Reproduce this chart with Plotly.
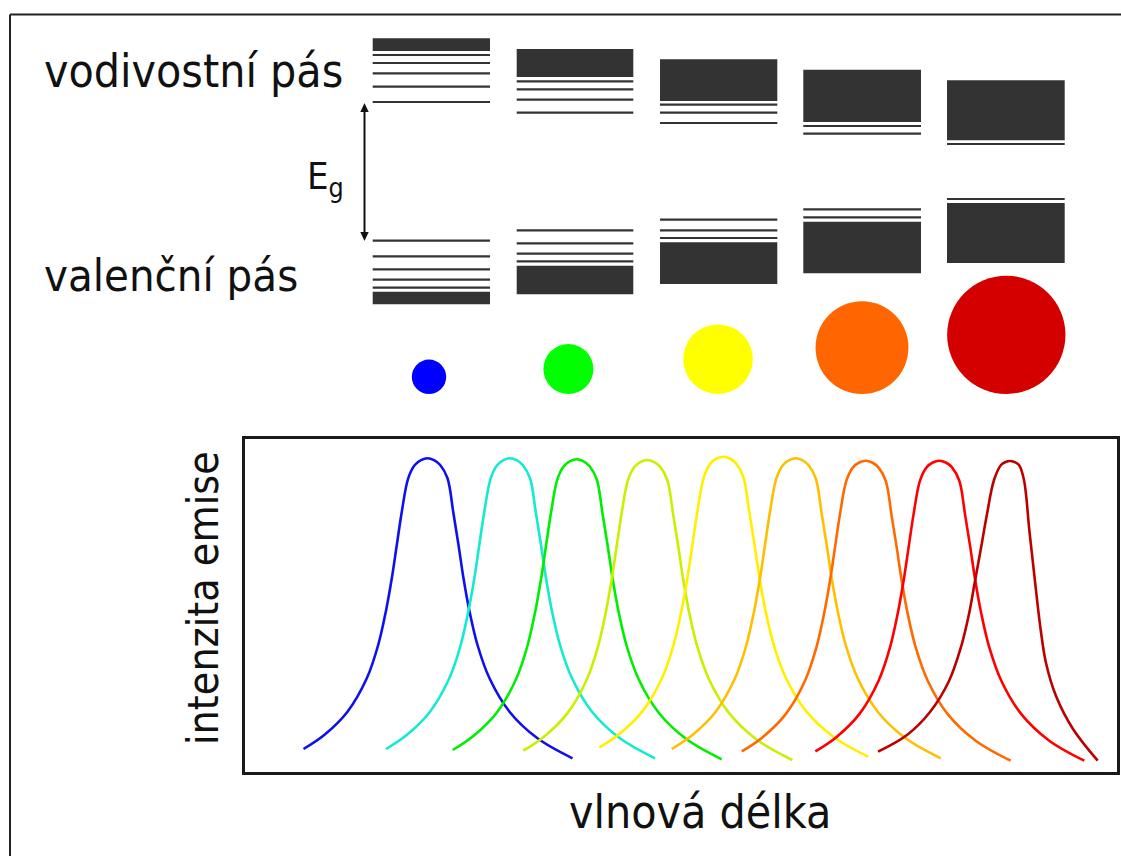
import plotly.graph_objects as go

W, H = 1121, 856
FONT = "DejaVu Sans Condensed, DejaVu Sans, Verdana, sans-serif"
INK = "#111111"
BAND = "#333333"

# ---- band diagram (pixel-unit energy levels) ----
COL_X0 = [372.7, 516.7, 660.0, 803.3, 947.0]
COL_X1 = [490.0, 633.3, 777.3, 921.0, 1064.7]
CB_BLOCK_TOP = [38.3, 49.0, 59.3, 69.7, 80.3]
CB_BLOCK_BOTTOM = [51.0, 77.0, 101.0, 122.0, 140.3]
CB_LINES = [[55.0, 63.0, 73.3, 86.7, 102.0],
            [81.3, 89.3, 99.7, 112.7],
            [104.7, 112.7, 123.0],
            [126.0, 133.7],
            [144.0]]
VB_LINES = [[240.7, 256.3, 269.3, 279.7, 287.7],
            [230.3, 243.3, 253.7, 261.3],
            [219.7, 230.3, 238.0],
            [209.3, 217.3],
            [199.0]]
VB_BLOCK_TOP = [291.7, 265.7, 242.3, 221.7, 203.0]
VB_BLOCK_BOTTOM = [304.3, 294.3, 284.0, 273.3, 263.0]

# band-gap arrow
GAP_X = 364.5
GAP_TOP, GAP_BOTTOM = 103.0, 241.0
HEAD_LEN, HEAD_HALF = 9.0, 4.2

# ---- emitted-colour dots ----
DOT_X = [429.0, 568.4, 718.0, 862.0, 1006.3]
DOT_Y = [376.8, 369.0, 359.2, 347.6, 334.8]
DOT_D = [34.4, 50.0, 69.6, 92.9, 118.3]
DOT_COLORS = ["#0000ff", "#00ff00", "#ffff00", "#ff6600", "#d40000"]

# ---- emission spectra ----
PEAK_X = [427.5, 510.0, 576.7, 647.3, 723.3, 795.7, 865.7, 939.3, 1010.0]
PEAK_I = [313.7, 313.7, 312.7, 312.0, 315.3, 313.7, 311.3, 311.3, 311.0]
CURVE_COLORS = ["#1010ee", "#14ead0", "#00ee00", "#c8f000", "#fff000",
                "#ffbf00", "#ff6a00", "#ff0000", "#bb0000"]
SHAPE_DX = [-124, -103.3, -80, -60.7, -49.3, -41.7, -35.7, -30.7, -25.7, -19.3, -12.7, -6.5,
            0, 6.5, 12.7, 20, 25.7, 31, 36, 42, 50, 62, 82, 110, 145]
SHAPE_DROP = [290.7, 276.7, 253.4, 220, 186.7, 153.4, 120, 86.7, 53.4, 20, 6.7, 1.8,
              0, 1.8, 6.7, 20, 53.4, 86.7, 120, 153, 186.7, 220, 253.4, 280, 300]
LAST_DX = [-132, -103, -80, -61, -49, -41, -35, -29, -23, -16, -9, -4.5,
           0, 4.5, 9, 14, 19.3, 23, 26.7, 30.7, 36, 46, 63, 87.7]
LAST_DROP = [290.7, 274, 251, 220, 186, 153, 120, 87, 53, 19, 4, 1,
             0, 1, 4, 19, 69, 102.3, 135.7, 169, 202, 235, 268, 299.7]

fig = go.Figure()

# dots
fig.add_trace(go.Scatter(x=DOT_X, y=DOT_Y, mode="markers", xaxis="x", yaxis="y",
                         marker=dict(size=DOT_D, color=DOT_COLORS, opacity=1,
                                     line=dict(width=0)),
                         hoverinfo="skip", showlegend=False))

# spectra
for i, (px, pi, col) in enumerate(zip(PEAK_X, PEAK_I, CURVE_COLORS)):
    dxs, drops = (LAST_DX, LAST_DROP) if i == len(PEAK_X) - 1 else (SHAPE_DX, SHAPE_DROP)
    fig.add_trace(go.Scatter(x=[px + d for d in dxs], y=[pi - d for d in drops],
                             mode="lines", xaxis="x2", yaxis="y2",
                             line=dict(color=col, width=2.6, shape="spline", smoothing=1.0),
                             hoverinfo="skip", showlegend=False))

shapes = []
for k in range(5):
    x0, x1 = COL_X0[k], COL_X1[k]
    for top, bot in ((CB_BLOCK_TOP[k], CB_BLOCK_BOTTOM[k]), (VB_BLOCK_TOP[k], VB_BLOCK_BOTTOM[k])):
        shapes.append(dict(type="rect", xref="x", yref="y", x0=x0, x1=x1, y0=top, y1=bot,
                           fillcolor=BAND, line=dict(width=0), layer="above"))
    for yy in CB_LINES[k] + VB_LINES[k]:
        shapes.append(dict(type="line", xref="x", yref="y", x0=x0, x1=x1, y0=yy, y1=yy,
                           line=dict(color=BAND, width=2.2), layer="above"))

# band-gap double arrow
shapes.append(dict(type="line", xref="x", yref="y", x0=GAP_X, x1=GAP_X,
                   y0=GAP_TOP + HEAD_LEN - 1, y1=GAP_BOTTOM - HEAD_LEN + 1,
                   line=dict(color=INK, width=2)))
shapes.append(dict(type="path", xref="x", yref="y",
                   path=f"M {GAP_X},{GAP_TOP} L {GAP_X - HEAD_HALF},{GAP_TOP + HEAD_LEN} "
                        f"L {GAP_X + HEAD_HALF},{GAP_TOP + HEAD_LEN} Z",
                   fillcolor=INK, line=dict(width=0)))
shapes.append(dict(type="path", xref="x", yref="y",
                   path=f"M {GAP_X},{GAP_BOTTOM} L {GAP_X - HEAD_HALF},{GAP_BOTTOM - HEAD_LEN} "
                        f"L {GAP_X + HEAD_HALF},{GAP_BOTTOM - HEAD_LEN} Z",
                   fillcolor=INK, line=dict(width=0)))

# outer frame (top and left edges)
shapes.append(dict(type="line", xref="x", yref="y", x0=10, x1=W, y0=14.5, y1=14.5,
                   line=dict(color="#222222", width=2)))
shapes.append(dict(type="line", xref="x", yref="y", x0=10, x1=10, y0=14.5, y1=H,
                   line=dict(color="#222222", width=2)))

annotations = [
    dict(x=42, y=71, xref="x", yref="y", text="vodivostní pás", showarrow=False,
         xanchor="left", yanchor="middle", font=dict(family=FONT, size=46, color=INK)),
    dict(x=42, y=275, xref="x", yref="y", text="valenční pás", showarrow=False,
         xanchor="left", yanchor="middle", font=dict(family=FONT, size=45, color=INK)),
    dict(x=305, y=178, xref="x", yref="y", text="E<sub>g</sub>", showarrow=False,
         xanchor="left", yanchor="middle", font=dict(family=FONT, size=38, color=INK)),
    dict(x=203, y=598, xref="x", yref="y", text="intenzita emise", showarrow=False,
         textangle=-90, xanchor="center", yanchor="middle",
         font=dict(family=FONT, size=42.5, color=INK)),
    dict(x=700, y=812, xref="x", yref="y", text="vlnová délka", showarrow=False,
         xanchor="center", yanchor="middle", font=dict(family=FONT, size=46, color=INK)),
]

X2_LEFT, X2_RIGHT = 244.5, 1117.0
Y2_TOP, Y2_BOTTOM = 439.0, 772.0

fig.update_layout(
    width=W, height=H, autosize=False,
    margin=dict(l=0, r=0, t=0, b=0, pad=0),
    paper_bgcolor="white", plot_bgcolor="rgba(0,0,0,0)",
    xaxis=dict(domain=[0, 1], range=[0, W], visible=False, fixedrange=True),
    yaxis=dict(domain=[0, 1], range=[H, 0], visible=False, fixedrange=True),
    xaxis2=dict(domain=[X2_LEFT / W, X2_RIGHT / W], range=[X2_LEFT, X2_RIGHT],
                anchor="y2", showline=True, mirror=True, linewidth=3, linecolor="#1a1a1a",
                showgrid=False, zeroline=False, showticklabels=False, ticks="",
                fixedrange=True),
    yaxis2=dict(domain=[1 - Y2_BOTTOM / H, 1 - Y2_TOP / H], range=[0, Y2_BOTTOM - Y2_TOP],
                anchor="x2", showline=True, mirror=True, linewidth=3, linecolor="#1a1a1a",
                showgrid=False, zeroline=False, showticklabels=False, ticks="",
                fixedrange=True),
    shapes=shapes,
    annotations=annotations,
    showlegend=False,
)

fig.write_html("out.html", config={"displayModeBar": False},
               post_script="document.body.style.margin='0';document.body.style.overflow='hidden';")
